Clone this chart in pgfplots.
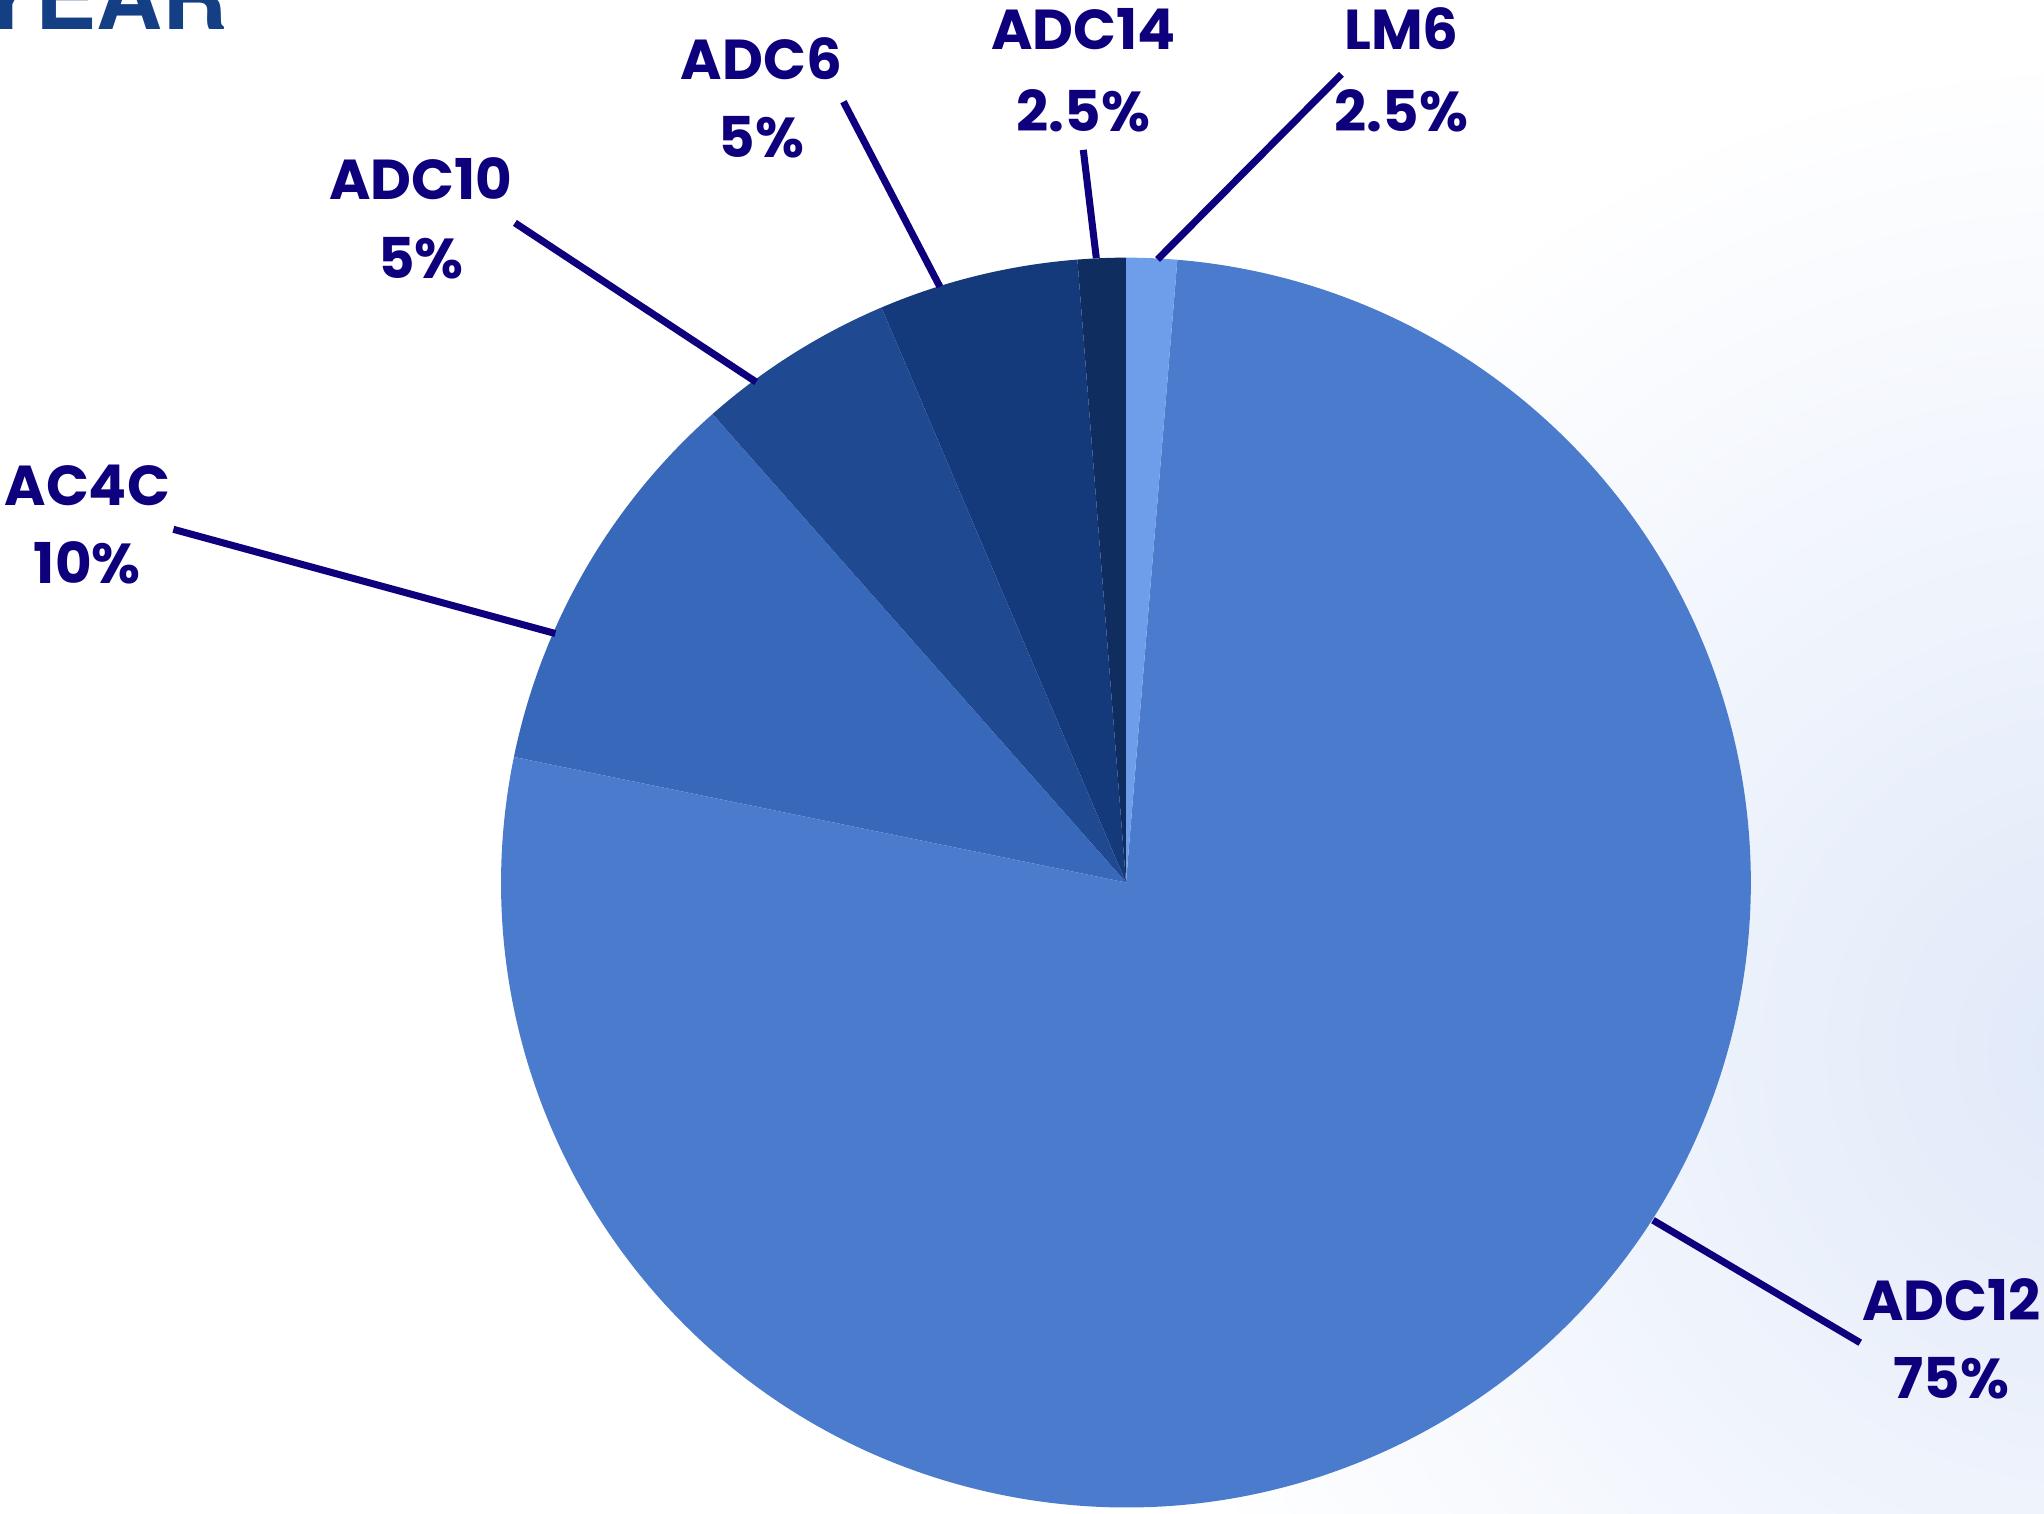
\documentclass[border=0pt]{standalone}
\usepackage{fontspec}
\setmainfont{Poppins}
\newfontfamily\titlefont{TeX Gyre Heros}
\usepackage{pgfplots}
\usepackage{pgfplotstable}
\pgfplotsset{compat=1.18}

\definecolor{slicecol0}{HTML}{102D5F}% ADC14
\definecolor{slicecol1}{HTML}{153A7B}% ADC6
\definecolor{slicecol2}{HTML}{1F4990}% ADC10
\definecolor{slicecol3}{HTML}{3868B9}% AC4C
\definecolor{slicecol4}{HTML}{4A7BCD}% ADC12
\definecolor{slicecol5}{HTML}{6E9EE9}% LM6
\definecolor{labelcol}{RGB}{14,0,125}
\definecolor{titlecol}{RGB}{21,63,133}
\definecolor{bgin}{HTML}{E0E9F9}
\pgfdeclareradialshading{bgshade}{\pgfpoint{0bp}{0bp}}{color(0bp)=(bgin); color(25bp)=(white); color(50bp)=(white)}

% slices, counter-clockwise from the top (percent of the full circle as drawn)
\pgfplotstableread{
label pct
ADC14 1.24
ADC6 5.16
ADC10 5.11
AC4C 10.27
ADC12 76.91
LM6 1.31
}\piedata

\begin{document}
\begin{tikzpicture}
\begin{axis}[name=ax, x=0.01cm, y=0.01cm, xmin=0, xmax=2044, ymin=0, ymax=1513,
  y dir=reverse, hide axis, clip=false, scale only axis]
  % background
  \begin{scope}
    \clip (axis cs:0,0) rectangle (axis cs:2044,1513);
    \fill[white] (axis cs:0,0) rectangle (axis cs:2044,1513);
    \shade[shading=bgshade] (axis cs:2100,1050) circle (10cm);
  \end{scope}
  % pie slices
  \def\cum{0}
  \pgfplotsforeachungrouped \i in {0,...,5}{%
    \pgfplotstablegetelem{\i}{pct}\of\piedata
    \let\val=\pgfplotsretval
    \pgfmathsetmacro\angA{90+3.6*\cum}%
    \pgfmathsetmacro\angB{90+3.6*(\cum+\val)}%
    \pgfmathsetmacro\cum{\cum+\val}%
    \edef\cmd{\noexpand\fill[slicecol\i] (axis cs:1126,882.5) -- ++(\angA:6.245cm) arc[start angle=\angA, end angle=\angB, radius=6.245cm] -- cycle;}%
    \cmd
  }
  % leader lines
  \begin{scope}[labelcol, line width=2pt]
    \draw (axis cs:1157.6,259.4) -- (axis cs:1341.4,74.3);
    \draw (axis cs:1096.3,258.1) -- (axis cs:1083.3,149.9);
    \draw (axis cs:939.9,286.8) -- (axis cs:843.4,101.7);
    \draw (axis cs:756.1,382) -- (axis cs:514.9,222.9);
    \draw (axis cs:555.3,633.5) -- (axis cs:173.4,529.3);
    \draw (axis cs:1653,1220.2) -- (axis cs:1860.2,1342.7);
  \end{scope}
  % labels
  \begin{scope}[every node/.style={text=labelcol, font=\fontsize{16}{19}\selectfont\bfseries, inner sep=0pt, anchor=center}]
    \node at (axis cs:1401.4,28.7) {LM6};
    \node at (axis cs:1401.4,110.8) {2.5\%};
    \node at (axis cs:1083.3,28.7) {ADC14};
    \node at (axis cs:1083.3,110.8) {2.5\%};
    \node at (axis cs:761.3,58.7) {ADC6};
    \node at (axis cs:761.3,136.9) {5\%};
    \node at (axis cs:421,178.6) {ADC10};
    \node at (axis cs:421,258.1) {5\%};
    \node at (axis cs:87.3,485) {AC4C};
    \node at (axis cs:87.3,563.1) {10\%};
    \node at (axis cs:1951.5,1299.7) {ADC12};
    \node at (axis cs:1951.5,1377.9) {75\%};
  \end{scope}
  % title, mostly cut off at the top edge (as in the reference)
  \node[overlay, anchor=base east, inner sep=0pt, text=titlecol, font=\titlefont\fontsize{26}{30}\selectfont\bfseries] at (axis cs:229,29) {YEAR};
\end{axis}
\pgfresetboundingbox
\useasboundingbox (ax.south west) rectangle (ax.north east);
\end{tikzpicture}
\end{document}
